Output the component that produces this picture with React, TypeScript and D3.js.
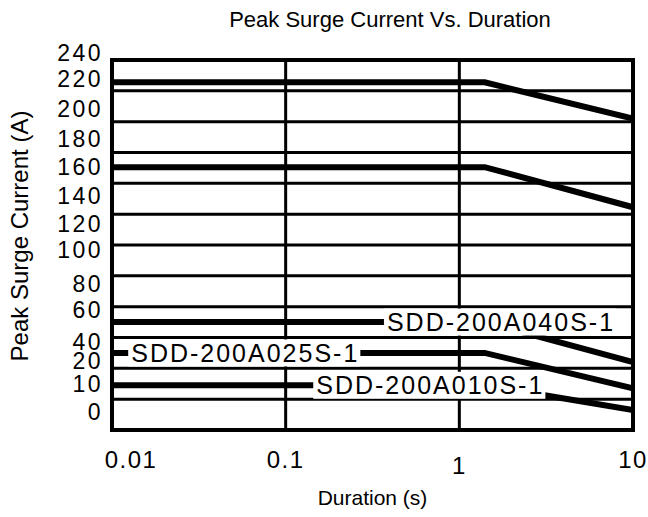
import React, { useEffect, useRef } from "react";
import * as d3 from "d3";

const W = 648;
const H = 517;

const chartTitle = "Peak Surge Current Vs. Duration";
const xTitle = "Duration (s)";
const yTitle = "Peak Surge Current (A)";

const xTickValues = [0.01, 0.1, 1, 10];
const xTickLabels = ["0.01", "0.1", "1", "10"];
const yTickLabels = ["240", "220", "200", "180", "160", "140", "120", "100", "80", "60", "40", "20", "10", "0"];
const yGridValues = [0, 20, 40, 60, 80, 100, 120, 140, 160, 180, 200, 220, 240];

const durations = [0.01, 1.4, 10];
const seriesTop = [225.5, 225.5, 202];
const seriesSecond = [170.5, 170.5, 144.5];
const series040 = [70, 70, 44];
const series025 = [50, 50, 27];
const series010 = [29, 29, 13];

const seriesList = [seriesTop, seriesSecond, series040, series025, series010];
const labelNames = ["SDD-200A040S-1", "SDD-200A025S-1", "SDD-200A010S-1"];
const labelSeries = [series040, series025, series010];
const labelAtDuration = [0.383, 0.0129, 0.15];

// layout (pixel) constants
const plot = { left: 112, right: 633, top: 60, bottom: 430 };
const yTickLabelCenters = [53, 79, 109, 139, 167, 196, 224, 250, 284, 310, 342, 361, 384, 412];

export default function App() {
  const ref = useRef<SVGSVGElement>(null);

  useEffect(() => {
    const svg = d3.select(ref.current);
    svg.selectAll("*").remove();

    const x = d3.scaleLog().domain([0.01, 10]).range([plot.left, plot.right]);
    const y = d3.scaleLinear().domain([0, 240]).range([plot.bottom, plot.top]);

    svg.append("rect").attr("width", W).attr("height", H).attr("fill", "#fff");

    const font = "'Liberation Sans', Arial, sans-serif";

    // title
    svg.append("text")
      .attr("x", 390).attr("y", 27)
      .attr("text-anchor", "middle")
      .attr("font-family", font)
      .attr("font-size", 22)
      .attr("fill", "#000")
      .text(chartTitle);

    // y axis title
    svg.append("text")
      .attr("transform", "translate(28,236) rotate(-90)")
      .attr("text-anchor", "middle")
      .attr("font-family", font)
      .attr("font-size", 24)
      .attr("fill", "#000")
      .text(yTitle);

    // x axis title
    svg.append("text")
      .attr("x", (plot.left + plot.right) / 2).attr("y", 505)
      .attr("text-anchor", "middle")
      .attr("font-family", font)
      .attr("font-size", 21)
      .attr("fill", "#000")
      .text(xTitle);

    const clipId = "plotclip";
    svg.append("defs").append("clipPath").attr("id", clipId)
      .append("rect")
      .attr("x", plot.left).attr("y", plot.top)
      .attr("width", plot.right - plot.left).attr("height", plot.bottom - plot.top);

    // gridlines
    const g = svg.append("g");
    g.selectAll("line.h")
      .data(yGridValues.slice(1, -1))
      .join("line")
      .attr("class", "h")
      .attr("x1", plot.left).attr("x2", plot.right)
      .attr("y1", (d) => y(d)).attr("y2", (d) => y(d))
      .attr("stroke", "#000").attr("stroke-width", 3);
    g.selectAll("line.v")
      .data(xTickValues.slice(1, -1))
      .join("line")
      .attr("class", "v")
      .attr("x1", (d) => x(d)).attr("x2", (d) => x(d))
      .attr("y1", plot.top).attr("y2", plot.bottom)
      .attr("stroke", "#000").attr("stroke-width", 3);

    // data lines
    const line = d3.line<number>()
      .x((_, i) => x(durations[i]))
      .y((d) => y(d));
    svg.append("g").attr("clip-path", `url(#${clipId})`)
      .selectAll("path")
      .data(seriesList)
      .join("path")
      .attr("d", (d) => line(d))
      .attr("fill", "none")
      .attr("stroke", "#000")
      .attr("stroke-width", 6);

    // border
    svg.append("rect")
      .attr("x", plot.left).attr("y", plot.top)
      .attr("width", plot.right - plot.left).attr("height", plot.bottom - plot.top)
      .attr("fill", "none").attr("stroke", "#000").attr("stroke-width", 4);

    // series labels with white boxes
    labelNames.forEach((name, i) => {
      const lg = svg.append("g");
      const cy = y(labelSeries[i][0]);
      const rect = lg.append("rect").attr("fill", "#fff");
      const t = lg.append("text")
        .attr("x", x(labelAtDuration[i]))
        .attr("y", cy + 9)
        .attr("font-family", font)
        .attr("font-size", 25)
        .attr("letter-spacing", 2)
        .attr("fill", "#000")
        .text(name);
      const bb = (t.node() as SVGTextElement).getBBox();
      rect.attr("x", bb.x - 3).attr("y", cy - 13.5)
        .attr("width", bb.width + 4).attr("height", 27);
    });

    // y tick labels
    svg.append("g").selectAll("text")
      .data(yTickLabels)
      .join("text")
      .attr("x", 103)
      .attr("y", (_, i) => yTickLabelCenters[i] + 8)
      .attr("text-anchor", "end")
      .attr("font-family", font)
      .attr("font-size", 23)
      .attr("letter-spacing", 2.5)
      .attr("fill", "#000")
      .text((d) => d);

    // x tick labels
    svg.append("g").selectAll("text")
      .data(xTickValues)
      .join("text")
      .attr("x", (d, i) => (i === 0 ? x(d) + 19 : x(d)))
      .attr("y", (_, i) => (i === 2 ? 474 : 468))
      .attr("text-anchor", "middle")
      .attr("font-family", font)
      .attr("font-size", 24)
      .attr("letter-spacing", 1.5)
      .attr("fill", "#000")
      .text((_, i) => xTickLabels[i]);
  }, []);

  return (
    <svg
      ref={ref}
      width={W}
      height={H}
      style={{ position: "absolute", left: 0, top: 0, display: "block" }}
    />
  );
}
